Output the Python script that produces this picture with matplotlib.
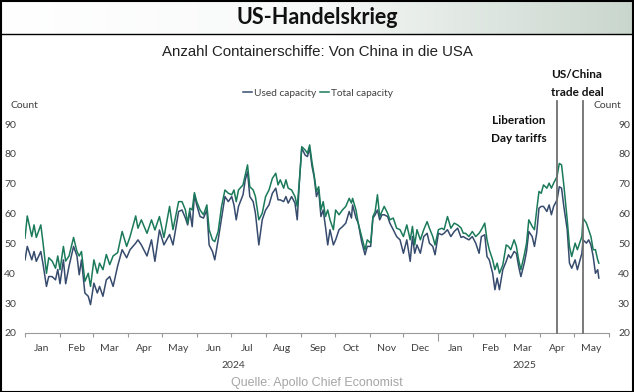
import numpy as np
import pandas as pd
import matplotlib
matplotlib.use("Agg")
import matplotlib.pyplot as plt
from matplotlib.lines import Line2D
from matplotlib.colors import LinearSegmentedColormap

# days since 2024-01-01
days = [0, 2, 6, 8, 10, 14, 16, 19, 21, 24, 27, 29, 31, 34, 36, 39, 43, 46, 48, 50,
        53, 56, 58, 61, 64, 66, 69, 72, 75, 78, 82, 86, 90, 93, 98, 100, 103, 108, 112, 115,
        119, 123, 128, 131, 136, 139, 142, 144, 146, 148, 150, 152, 155, 158, 161, 163, 166, 168, 171, 174,
        177, 180, 183, 185, 187, 189, 193, 195, 197, 199, 202, 204, 207, 210, 213, 216, 219, 222, 224, 226,
        229, 231, 233, 236, 239, 241, 243, 245, 248, 250, 252, 254, 256, 258, 260, 262, 264, 266, 268, 270,
        273, 275, 278, 281, 284, 287, 289, 290, 293, 295, 298, 301, 303, 306, 308, 310, 312, 314, 316, 318,
        321, 323, 326, 329, 332, 335, 338, 341, 343, 345, 347, 350, 353, 356, 358, 361, 363, 366, 369, 371,
        374, 377, 380, 383, 386, 388, 390, 393, 396, 399, 402, 404, 407, 409, 411, 414, 416, 418, 420, 423,
        426, 428, 430, 433, 435, 437, 439, 442, 444, 446, 449, 451, 453, 455, 457, 459, 462, 464, 466, 468,
        471, 473, 475, 477, 480, 482, 484, 487, 489, 491, 493, 494, 497, 499, 501, 503, 505, 507, 508]

total_capacity = [51.8, 59.2, 52.3, 56.2, 52.0, 56.2, 50.1, 40.0, 45.2, 44.1, 41.7, 45.8, 41.2, 49.0, 44.1, 45.8, 52.0, 47.3, 45.8, 47.3,
                  37.3, 40.0, 35.6, 44.5, 40.0, 43.4, 41.2, 46.3, 42.9, 45.8, 46.9, 54.0, 49.0, 52.3, 59.2, 55.1, 57.9, 53.4, 57.9, 54.5,
                  59.0, 52.0, 62.4, 54.6, 64.0, 64.0, 61.2, 56.8, 61.8, 61.2, 67.0, 64.0, 61.2, 59.6, 62.9, 54.6, 51.2, 50.6, 54.0, 62.4,
                  67.9, 66.8, 66.3, 67.9, 64.0, 67.9, 69.6, 73.0, 76.3, 69.0, 67.9, 65.7, 57.9, 60.1, 65.7, 67.9, 71.8, 73.5, 69.6, 71.3,
                  68.5, 71.3, 68.5, 67.9, 65.7, 62.4, 71.3, 82.4, 81.3, 80.2, 83.0, 77.4, 72.8, 67.4, 69.0, 61.2, 64.0, 59.0, 61.2, 57.9,
                  54.6, 61.2, 59.6, 61.2, 62.4, 65.1, 63.5, 65.1, 61.2, 56.8, 52.3, 47.9, 51.2, 50.1, 59.0, 60.7, 66.3, 59.0, 60.7, 62.4,
                  60.1, 57.9, 58.5, 55.1, 54.6, 52.3, 56.2, 51.2, 55.7, 49.5, 54.6, 51.2, 54.6, 57.3, 55.1, 52.3, 49.5, 54.6, 55.1, 54.6,
                  59.0, 55.1, 56.8, 56.2, 55.2, 53.4, 53.4, 52.3, 54.0, 52.3, 53.4, 54.6, 56.8, 51.2, 47.9, 44.5, 41.2, 43.4, 40.0, 42.8,
                  49.5, 49.0, 47.9, 51.2, 49.0, 44.5, 41.2, 46.2, 50.1, 57.9, 55.7, 54.6, 61.2, 67.4, 66.8, 69.6, 68.5, 70.2, 68.5, 70.2,
                  72.4, 76.8, 76.3, 69.6, 57.9, 49.0, 45.6, 50.1, 47.9, 50.1, 52.3, 58.5, 56.8, 54.6, 52.3, 47.9, 47.9, 44.5, 43.4]

used_capacity = [44.5, 49.0, 44.5, 47.3, 44.0, 47.3, 43.0, 35.6, 38.9, 38.9, 37.8, 41.3, 36.5, 44.5, 36.5, 42.4, 49.0, 45.8, 39.5, 44.5,
                 33.4, 32.3, 29.5, 36.7, 33.4, 35.6, 32.3, 37.8, 38.9, 35.6, 42.4, 47.9, 45.2, 47.9, 50.1, 51.2, 49.5, 45.8, 51.2, 44.0,
                 54.5, 49.5, 53.0, 49.5, 60.7, 61.2, 58.5, 56.2, 60.7, 55.6, 66.3, 62.9, 59.0, 58.5, 61.2, 49.5, 47.3, 44.5, 51.2, 58.5,
                 65.7, 64.0, 65.7, 62.9, 57.9, 62.4, 66.3, 71.3, 74.0, 65.7, 64.0, 60.1, 49.5, 57.9, 61.2, 62.9, 66.8, 68.5, 64.6, 64.6,
                 64.0, 65.7, 63.5, 65.7, 63.5, 57.9, 71.3, 81.9, 79.6, 79.1, 81.9, 76.0, 72.2, 65.7, 67.9, 59.0, 61.2, 55.6, 49.5, 54.6,
                 49.5, 51.2, 54.6, 55.6, 56.8, 60.7, 58.5, 62.9, 58.5, 56.8, 50.6, 46.2, 49.0, 49.0, 58.5, 59.6, 61.2, 57.9, 59.6, 59.6,
                 59.0, 56.8, 54.6, 52.3, 51.2, 46.7, 51.2, 44.0, 52.3, 46.7, 49.5, 46.7, 52.3, 53.4, 50.1, 49.0, 46.2, 53.4, 52.9, 53.4,
                 54.6, 52.3, 54.0, 55.1, 52.0, 52.3, 51.8, 51.2, 52.3, 50.1, 46.7, 52.3, 52.9, 45.6, 44.5, 40.0, 34.5, 38.4, 34.5, 41.2,
                 44.0, 46.2, 45.1, 47.3, 46.7, 42.3, 38.9, 43.4, 47.3, 54.0, 52.3, 49.0, 53.4, 61.8, 62.4, 62.4, 60.7, 62.9, 59.6, 62.4,
                 64.6, 69.0, 68.5, 62.4, 54.6, 43.4, 41.7, 44.5, 41.2, 44.0, 46.7, 51.2, 50.1, 51.2, 49.5, 45.6, 40.0, 41.2, 38.4]

month_labels = ["Jan", "Feb", "Mar", "Apr", "May", "Jun", "Jul", "Aug", "Sep", "Oct", "Nov", "Dec",
                "Jan", "Feb", "Mar", "Apr", "May"]
events = ["2025-04-16", "2025-05-09"]

dates = pd.Timestamp("2024-01-01") + pd.to_timedelta(days, unit="D")

W, H = 634, 392
fig = plt.figure(figsize=(W / 100, H / 100), dpi=100)
LATO = ["Lato", "DejaVu Sans"]
ARIAL = ["Liberation Sans", "DejaVu Sans"]


def fx(x):
    return x / W


def fy(y):
    return 1 - y / H


# title banner with gradient
bax = fig.add_axes([0, fy(34), 1, 34 / H])
cmap = LinearSegmentedColormap.from_list("b", ["#ffffff", "#f7f9f8", "#c9d6cd"])
bax.imshow(np.linspace(0, 1, 256).reshape(1, -1), cmap=cmap, aspect="auto", extent=[0, 1, 0, 1])
bax.set_axis_off()
fig.text(0.5, fy(18), "US-Handelskrieg", ha="center", va="center", fontsize=15.5,
         fontweight="bold", family=LATO, color="#111111")
fig.add_artist(Line2D([0, 1], [fy(34), fy(34)], color="black", lw=1))
fig.add_artist(plt.Rectangle((0.001, 0.001), 0.997, 0.997, fill=False, ec="black", lw=1.5))

fig.text(0.5, fy(52), "Anzahl Containerschiffe: Von China in die USA", ha="center", va="center",
         fontsize=10.8, family=ARIAL, color="#222222")

ax = fig.add_axes([fx(25), fy(333), fx(609) - fx(25), (333 - 124) / H])
navy = "#364b6d"
green = "#1b7a5b"
ax.plot(dates, used_capacity, color=navy, lw=1.1, label="Used capacity")
ax.plot(dates, total_capacity, color=green, lw=1.1, label="Total capacity")

ax.set_xlim(pd.Timestamp("2024-01-01"), pd.Timestamp("2025-06-01"))
ax.set_ylim(20, 90)
ax.set_yticks(range(20, 91, 10))
for s in ["top", "left", "right"]:
    ax.spines[s].set_visible(False)
ax.spines["bottom"].set_color("#9a9a9a")
ax.tick_params(axis="y", left=False, right=False, labelleft=True, labelright=True,
               labelsize=7.5, labelcolor="#404040", pad=3)

major = pd.date_range("2024-01-01", "2025-06-01", freq="MS")
minor = major[:-1] + pd.Timedelta(days=15)
ax.set_xticks(major)
ax.set_xticklabels([])
ax.set_xticks(minor, minor=True)
ax.set_xticklabels(month_labels, minor=True)
ax.tick_params(axis="x", which="major", length=3, color="#9a9a9a")
ax.tick_params(axis="x", which="minor", length=0, pad=8, labelsize=7.5, labelcolor="#404040")
ax.xaxis.get_major_ticks()[12].tick1line.set_markersize(6)
for lab in ax.get_xticklabels(minor=True) + ax.get_yticklabels():
    lab.set_family(LATO)

fig.text(fx(233), fy(366), "2024", ha="center", va="center", fontsize=7.5, color="#404040", family=LATO)
fig.text(fx(524), fy(366), "2025", ha="center", va="center", fontsize=7.5, color="#404040", family=LATO)
fig.text(fx(24), fy(106), "Count", ha="center", va="center", fontsize=7.5, color="#404040", family=LATO)
fig.text(fx(607), fy(106), "Count", ha="center", va="center", fontsize=7.5, color="#404040", family=LATO)

top = (333 - 101) / (333 - 124)
for d in events:
    ax.axvline(pd.Timestamp(d), ymin=0, ymax=top, color="#6f6f6f", lw=1.3, clip_on=False, zorder=3)

fig.text(fx(519), fy(120), "Liberation", ha="center", va="center", fontsize=8.5, fontweight="bold",
         family=LATO, color="#111111")
fig.text(fx(519), fy(139), "Day tariffs", ha="center", va="center", fontsize=8.5, fontweight="bold",
         family=LATO, color="#111111")
fig.text(fx(577), fy(75), "US/China", ha="center", va="center", fontsize=8.5, fontweight="bold",
         family=LATO, color="#111111")
fig.text(fx(577), fy(93), "trade deal", ha="center", va="center", fontsize=8.5, fontweight="bold",
         family=LATO, color="#111111")

leg = ax.legend(loc="center", bbox_to_anchor=(fx(318), fy(93)), bbox_transform=fig.transFigure,
                ncol=2, frameon=False, handlelength=0.9, handletextpad=0.2,
                columnspacing=0.4, prop={"family": LATO, "size": 7.3})
for t in leg.get_texts():
    t.set_color("#404040")

fig.text(0.5, fy(383), "Quelle: Apollo Chief Economist", ha="center", va="center", fontsize=9,
         family=ARIAL, color="#a6a6a6")

fig.savefig("out.png", dpi=100)
